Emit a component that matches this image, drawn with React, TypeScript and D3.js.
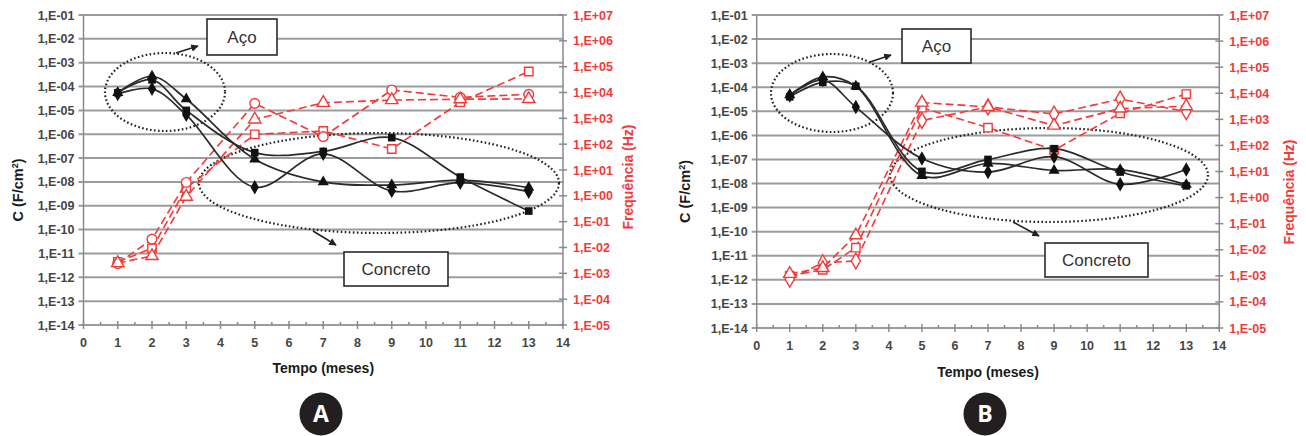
import React from 'react';
import * as d3 from 'd3';

// tempo de exposição (meses)
const months = [1, 2, 3, 5, 7, 9, 11, 13];
const xTickValues = [0, 1, 2, 3, 4, 5, 6, 7, 8, 9, 10, 11, 12, 13, 14];
const leftTickLabels = ['1,E-01', '1,E-02', '1,E-03', '1,E-04', '1,E-05', '1,E-06', '1,E-07',
  '1,E-08', '1,E-09', '1,E-10', '1,E-11', '1,E-12', '1,E-13', '1,E-14'];
const rightTickLabels = ['1,E+07', '1,E+06', '1,E+05', '1,E+04', '1,E+03', '1,E+02', '1,E+01',
  '1,E+00', '1,E-01', '1,E-02', '1,E-03', '1,E-04', '1,E-05'];

// Painel A - capacitância (F/cm2)
const aCapSquare = [5.5e-5, 1.9e-4, 1e-5, 1.7e-7, 1.9e-7, 7.2e-7, 1.6e-8, 6e-10];
const aCapDiamond = [4.9e-5, 8e-5, 6.5e-6, 6e-9, 1.5e-7, 4.2e-9, 9.3e-9, 3.9e-9];
const aCapTriangle = [5.5e-5, 2.7e-4, 3e-5, 9e-8, 1e-8, 7.4e-9, 1.2e-8, 5.8e-9];
// Painel A - frequência (Hz)
const aFreqSquare = [2.8e-3, 9.3e-3, 2, 240, 325, 65, 4200, 65000];
const aFreqCircle = [2.4e-3, 0.021, 3.3, 3800, 195, 12500, 6500, 8500];
const aFreqTriangle = [2.5e-3, 4.7e-3, 0.93, 910, 4000, 5100, 5500, 5600];

// Painel B - capacitância (F/cm2)
const bCapSquare = [4e-5, 1.6e-4, 1.1e-4, 3.2e-8, 1e-7, 2.8e-7, 3e-8, 8e-9];
const bCapDiamond = [4.5e-5, 2e-4, 1.5e-5, 1.1e-7, 3e-8, 1.3e-7, 9.3e-9, 3.8e-8];
const bCapTriangle = [4.8e-5, 2.7e-4, 1.1e-4, 2.1e-8, 6.8e-8, 3.5e-8, 3.8e-8, 9e-9];
// Painel B - frequência (Hz)
const bFreqSquare = [1e-3, 1.7e-3, 0.012, 2800, 480, 66, 1700, 9300];
const bFreqDiamond = [7.4e-4, 3.2e-3, 3.7e-3, 900, 3000, 1600, 6000, 1950];
const bFreqTriangle = [1.2e-3, 2e-3, 0.036, 4400, 3000, 575, 2600, 3200];

const RED = '#f23a3a';
const FONT = '"Liberation Sans", Arial, sans-serif';

const parseTick = (s: string) => Number(s.replace(',', '.'));

const symbols: Record<string, d3.SymbolType> = {
  square: d3.symbolSquare,
  diamond: d3.symbolDiamond,
  triangle: d3.symbolTriangle,
  circle: d3.symbolCircle,
};
const symbolSize: Record<string, number> = { square: 58, diamond: 60, triangle: 54, circle: 62 };

type Series = { values: number[]; marker: string };

type PanelCfg = {
  left: number; right: number; top: number; bottom: number;
  cap: Series[]; freq: Series[];
  letter: string; letterX: number; letterY: number;
  cLabelX: number; fLabelX: number; fLabelY: number; tempoY: number;
  aco: { cx: number; cy: number; rx: number; ry: number; box: number[]; arrow: number[] };
  concreto: { cx: number; cy: number; rx: number; ry: number; box: number[]; arrow: number[] };
};

const panelA: PanelCfg = {
  left: 83.5, right: 563, top: 15, bottom: 325,
  cap: [
    { values: aCapSquare, marker: 'square' },
    { values: aCapDiamond, marker: 'diamond' },
    { values: aCapTriangle, marker: 'triangle' },
  ],
  freq: [
    { values: aFreqSquare, marker: 'square' },
    { values: aFreqCircle, marker: 'circle' },
    { values: aFreqTriangle, marker: 'triangle' },
  ],
  letter: 'A', letterX: 321, letterY: 414,
  cLabelX: 18, fLabelX: 628, fLabelY: 177, tempoY: 373,
  aco: { cx: 165, cy: 92, rx: 60, ry: 39, box: [207, 19, 70, 36], arrow: [176, 53, 198, 46] },
  concreto: { cx: 379, cy: 183, rx: 180, ry: 50, box: [344, 252, 104, 34], arrow: [313, 231, 336, 245] },
};

const panelB: PanelCfg = {
  left: 756.7, right: 1219.3, top: 15, bottom: 328,
  cap: [
    { values: bCapSquare, marker: 'square' },
    { values: bCapDiamond, marker: 'diamond' },
    { values: bCapTriangle, marker: 'triangle' },
  ],
  freq: [
    { values: bFreqSquare, marker: 'square' },
    { values: bFreqDiamond, marker: 'diamond' },
    { values: bFreqTriangle, marker: 'triangle' },
  ],
  letter: 'B', letterX: 985, letterY: 414,
  cLabelX: 685, fLabelX: 1289, fLabelY: 192, tempoY: 377,
  aco: { cx: 832, cy: 93, rx: 61, ry: 39, box: [902, 29, 69, 34], arrow: [870, 62, 891, 55] },
  concreto: { cx: 1049, cy: 175, rx: 159, ry: 47, box: [1045, 243, 103, 34], arrow: [1013, 222, 1039, 236] },
};

function Panel({ cfg }: { cfg: PanelCfg }) {
  const x = d3.scaleLinear().domain([0, 14]).range([cfg.left, cfg.right]);
  const yL = d3.scaleLog().domain([1e-14, 1e-1]).range([cfg.bottom, cfg.top]);
  const yR = d3.scaleLog().domain([1e-5, 1e7]).range([cfg.bottom, cfg.top]);

  const smooth = d3.line<number>()
    .x((_, i) => x(months[i]))
    .y((d) => yL(d))
    .curve(d3.curveCatmullRom.alpha(0.5));
  const straight = d3.line<number>()
    .x((_, i) => x(months[i]))
    .y((d) => yR(d));

  const midY = (cfg.top + cfg.bottom) / 2;
  const minorTicks = xTickValues.slice(0, -1).map((v) => v + 0.5);

  return (
    <g>
      {/* linhas de grade */}
      {leftTickLabels.map((t) => (
        <line key={t} x1={cfg.left - 5} x2={cfg.right} y1={yL(parseTick(t))} y2={yL(parseTick(t))}
          stroke="#9c9c9c" strokeWidth={2} />
      ))}
      <line x1={cfg.left} x2={cfg.left} y1={cfg.top} y2={cfg.bottom} stroke="#8a8a8a" strokeWidth={1.5} />
      <line x1={cfg.right} x2={cfg.right} y1={cfg.top} y2={cfg.bottom} stroke="#8a8a8a" strokeWidth={1.5} />
      {rightTickLabels.map((t) => (
        <line key={t} x1={cfg.right - 4} x2={cfg.right + 4} y1={yR(parseTick(t))} y2={yR(parseTick(t))}
          stroke="#8a8a8a" strokeWidth={1.5} />
      ))}
      {xTickValues.map((v) => (
        <line key={v} x1={x(v)} x2={x(v)} y1={cfg.bottom - 4} y2={cfg.bottom + 4} stroke="#8a8a8a" strokeWidth={1.5} />
      ))}
      {minorTicks.map((v) => (
        <line key={v} x1={x(v)} x2={x(v)} y1={cfg.bottom - 3} y2={cfg.bottom} stroke="#8a8a8a" strokeWidth={1.5} />
      ))}

      {/* rótulos dos eixos */}
      <g fontFamily={FONT} fontSize={12.5} fontWeight="bold">
        {leftTickLabels.map((t) => (
          <text key={t} x={cfg.left - 9} y={yL(parseTick(t)) + 4.5} textAnchor="end" fill="#454545">{t}</text>
        ))}
        {rightTickLabels.map((t) => (
          <text key={t} x={cfg.right + 10} y={yR(parseTick(t)) + 4.5} fill={RED}>{t}</text>
        ))}
        {xTickValues.map((v) => (
          <text key={v} x={x(v)} y={cfg.bottom + 22} textAnchor="middle" fill="#454545">{v}</text>
        ))}
      </g>
      <text x={(cfg.left + cfg.right) / 2} y={cfg.tempoY} textAnchor="middle" fontFamily={FONT}
        fontSize={14} fontWeight="bold" fill="#1a1a1a">Tempo (meses)</text>
      <text transform={`translate(${cfg.cLabelX + 5},${midY + 20}) rotate(-90)`} textAnchor="middle"
        fontFamily={FONT} fontSize={14.5} fontWeight="bold" fill="#1a1a1a">
        C (F/cm<tspan dy={-5} fontSize={9}>2</tspan><tspan dy={5}>)</tspan>
      </text>
      <text transform={`translate(${cfg.fLabelX + 5},${cfg.fLabelY}) rotate(-90)`} textAnchor="middle"
        fontFamily={FONT} fontSize={14} fontWeight="bold" fill={RED}>Frequência (Hz)</text>

      {/* elipses e caixas de anotação */}
      {[cfg.aco, cfg.concreto].map((a, i) => (
        <g key={i}>
          <ellipse cx={a.cx} cy={a.cy} rx={a.rx} ry={a.ry} fill="none" stroke="#222" strokeWidth={2.2}
            strokeDasharray="1.6,2.4" />
          <line x1={a.arrow[0]} y1={a.arrow[1]} x2={a.arrow[2]} y2={a.arrow[3]} stroke="#222" strokeWidth={1.5}
            markerEnd="url(#arrowHead)" />
          <rect x={a.box[0]} y={a.box[1]} width={a.box[2]} height={a.box[3]} fill="#fff" stroke="#2a2a2a"
            strokeWidth={1.6} />
          <text x={a.box[0] + a.box[2] / 2} y={a.box[1] + a.box[3] / 2 + 6} textAnchor="middle" fontFamily={FONT}
            fontSize={17} fill="#333">{i === 0 ? 'Aço' : 'Concreto'}</text>
        </g>
      ))}

      {/* séries de frequência (tracejadas, vermelhas) */}
      {cfg.freq.map((s, i) => (
        <g key={i}>
          <path d={straight(s.values) ?? ''} fill="none" stroke={RED} strokeWidth={1.6} strokeDasharray="8,4" />
          {s.values.map((v, j) => (
            <path key={j} transform={`translate(${x(months[j])},${yR(v)})`}
              d={d3.symbol(symbols[s.marker], symbolSize[s.marker] + 12)() ?? ''}
              fill="#fff" stroke={RED} strokeWidth={1.4} />
          ))}
        </g>
      ))}

      {/* séries de capacitância (suavizadas, pretas) */}
      {cfg.cap.map((s, i) => (
        <g key={i}>
          <path d={smooth(s.values) ?? ''} fill="none" stroke="#2b2b2b" strokeWidth={1.7} />
          {s.values.map((v, j) => (
            <path key={j} transform={`translate(${x(months[j])},${yL(v)})`}
              d={d3.symbol(symbols[s.marker], symbolSize[s.marker])() ?? ''} fill="#111" />
          ))}
        </g>
      ))}

      {/* letra do painel */}
      <circle cx={cfg.letterX} cy={cfg.letterY} r={21.5} fill="#231f20" />
      <text x={cfg.letterX} y={cfg.letterY + 8} textAnchor="middle" fontFamily='"Open Sans", sans-serif'
        fontWeight="bold" fontSize={23} fill="#fff">{cfg.letter}</text>
    </g>
  );
}

export default function App() {
  return (
    <div style={{ position: 'absolute', left: 0, top: 0 }}>
      <svg width={1306} height={436} style={{ display: 'block', background: '#fff' }}>
        <defs>
          <marker id="arrowHead" viewBox="0 0 10 10" refX={9} refY={5} markerWidth={5} markerHeight={5}
            orient="auto" markerUnits="strokeWidth">
            <path d="M0,0 L10,5 L0,10 z" fill="#222" />
          </marker>
        </defs>
        <Panel cfg={panelA} />
        <Panel cfg={panelB} />
      </svg>
    </div>
  );
}
